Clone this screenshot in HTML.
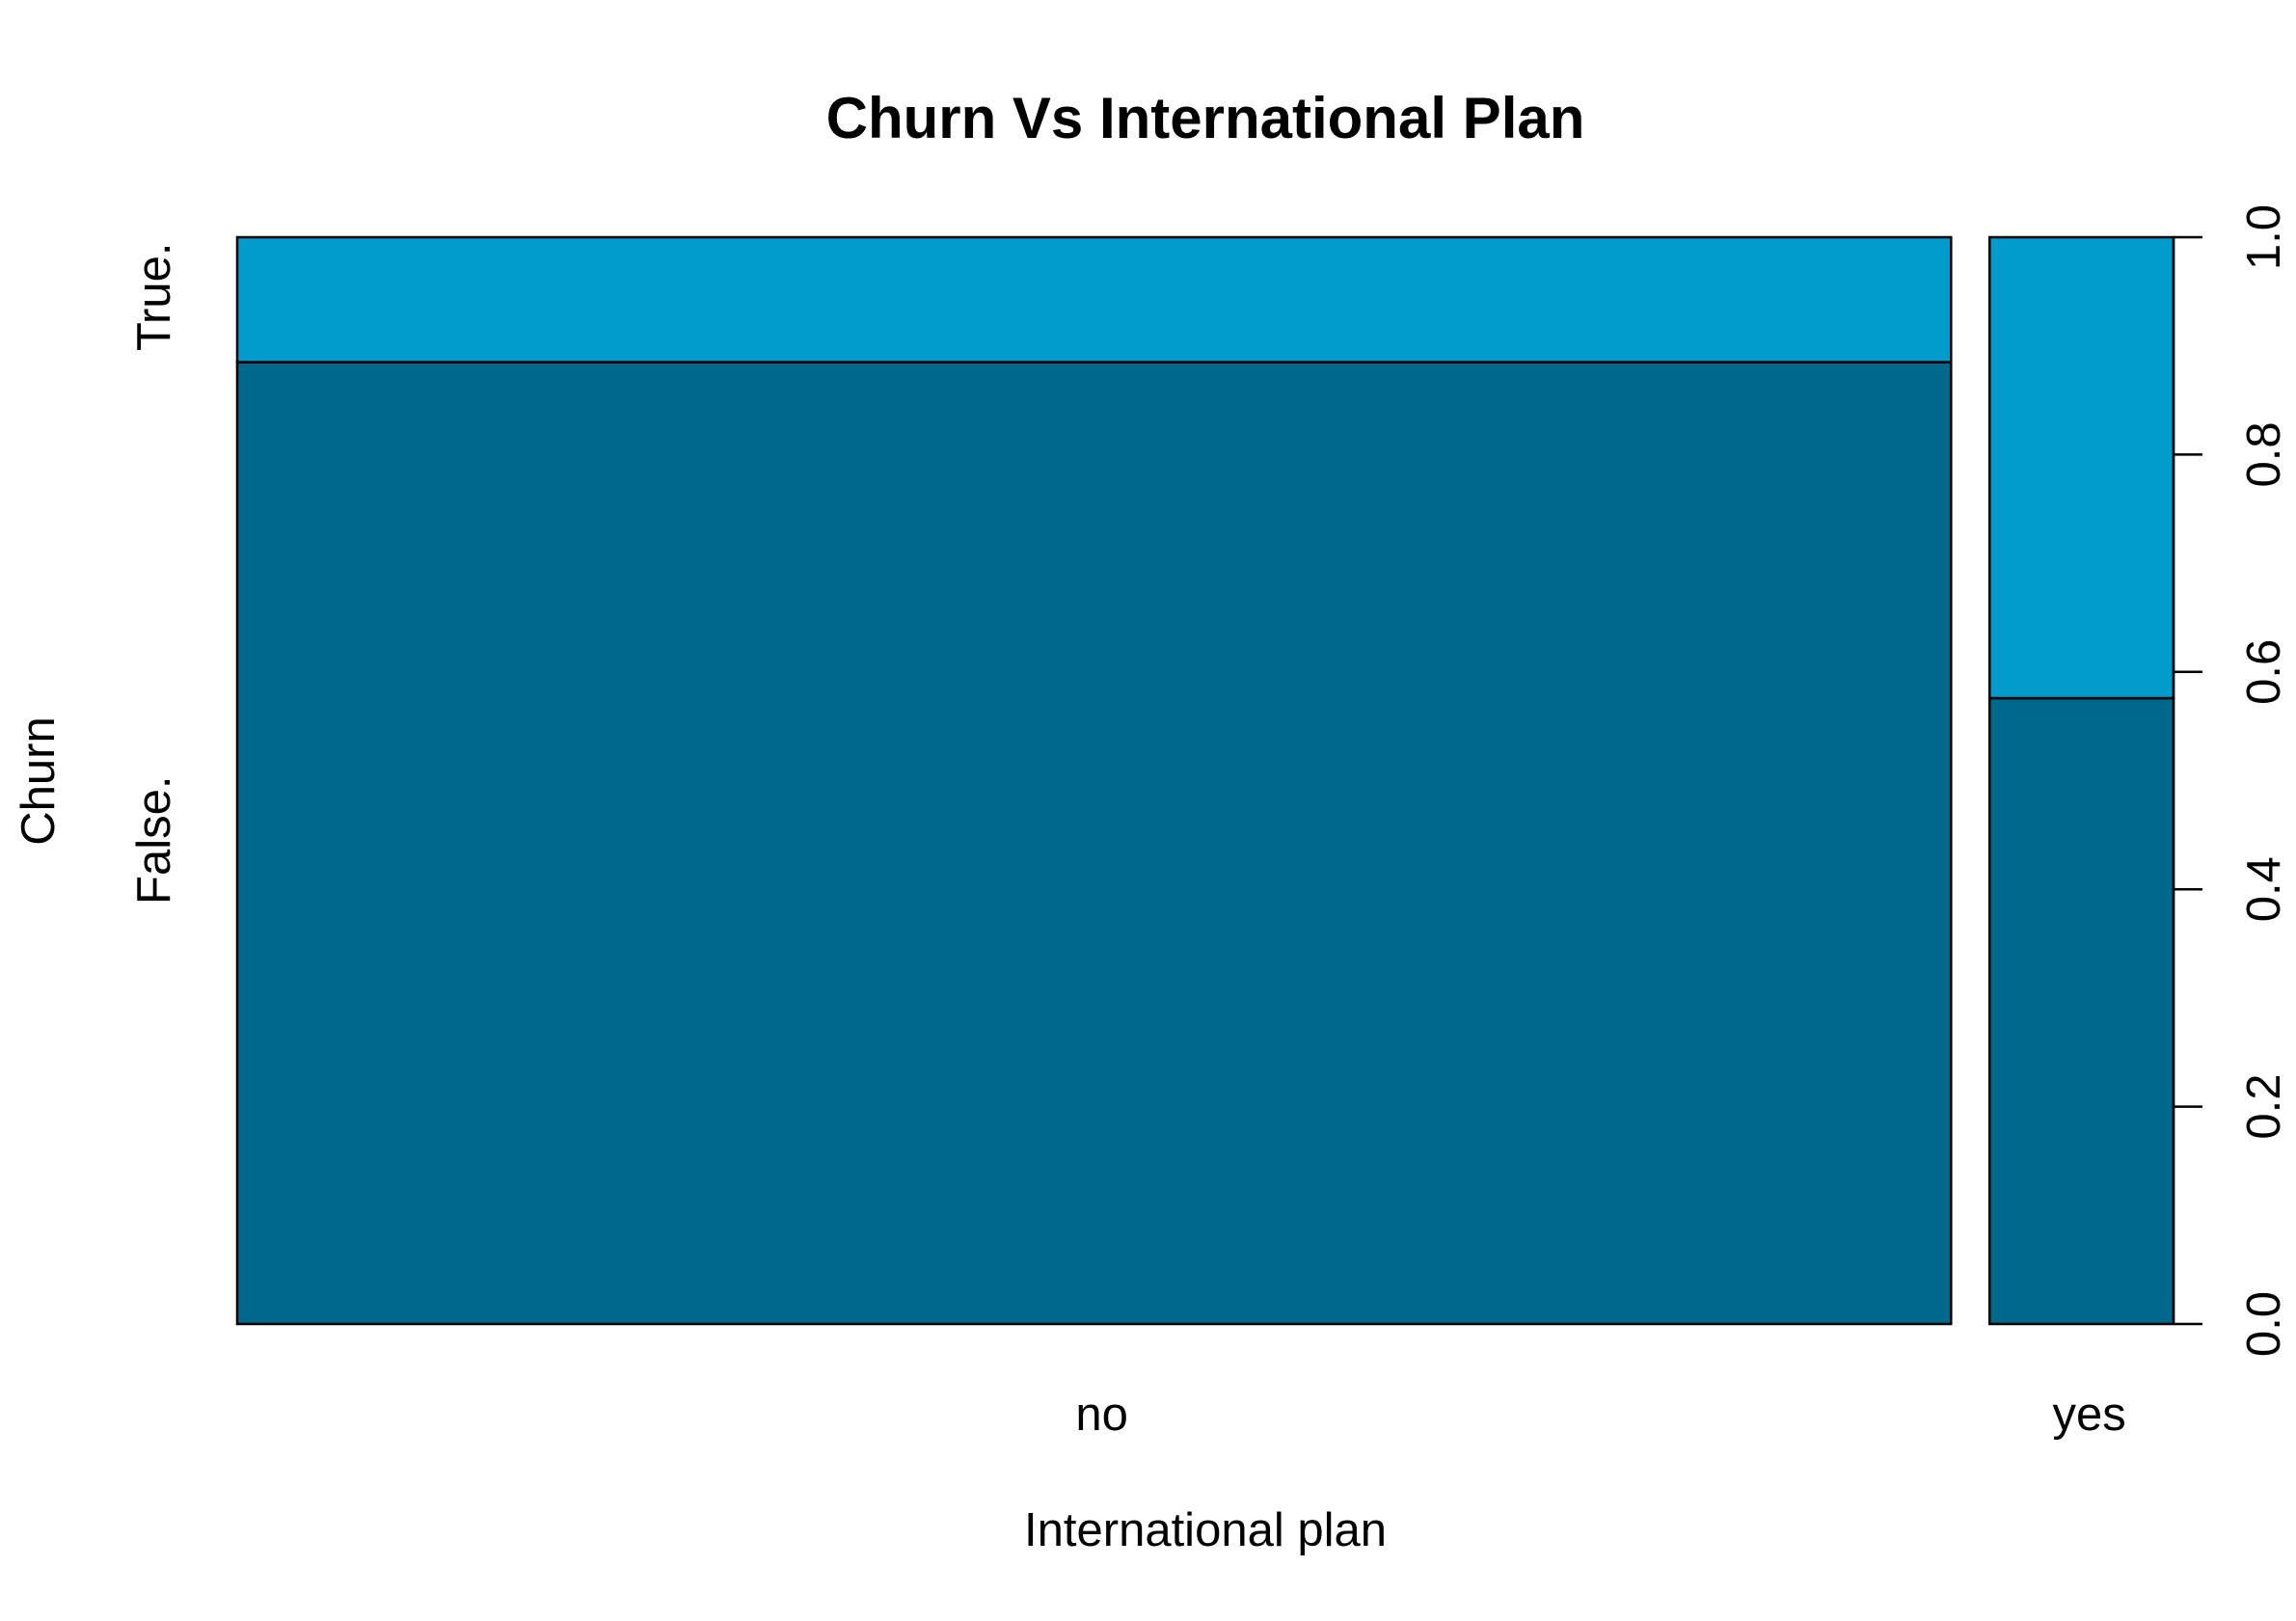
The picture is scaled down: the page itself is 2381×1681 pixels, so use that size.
<!DOCTYPE html>
<html>
<head>
<meta charset="utf-8">
<style>
html,body{margin:0;padding:0;background:#fff;}
svg{display:block;}
text{font-family:"Liberation Sans",Arial,sans-serif;fill:#000;}
</style>
</head>
<body>
<svg id="chart" width="2381" height="1681" viewBox="0 0 2381 1681" xmlns="http://www.w3.org/2000/svg">
  <rect x="0" y="0" width="2381" height="1681" fill="#ffffff"/>
  <text x="1250" y="143" font-size="60" font-weight="bold" text-anchor="middle">Churn Vs International Plan</text>
  <text x="1250" y="1603" font-size="49" text-anchor="middle">International plan</text>
  <text transform="rotate(-90 56 810)" x="56" y="810" font-size="49" text-anchor="middle">Churn</text>
  <g id="cells"></g>
  <g id="yaxis"></g>
  <g id="labels"></g>
</svg>
<script>
const categories = ["no", "yes"];
const churnLevels = ["False.", "True."];
const falseCounts = [2664, 186];
const trueCounts = [346, 137];
const tickLabels = ["0.0", "0.2", "0.4", "0.6", "0.8", "1.0"];
const tickValues = [0, 0.2, 0.4, 0.6, 0.8, 1.0];

const NS = "http://www.w3.org/2000/svg";
const plotLeft = 246, plotRight = 2254, plotTop = 246, plotBottom = 1373, colGap = 40;
const fills = ["#00688B", "#009ACD"];
function yScale(v){ return plotBottom - v * (plotBottom - plotTop); }
const totals = categories.map((c,i)=>falseCounts[i]+trueCounts[i]);
const grand = totals.reduce((a,b)=>a+b,0);
const usable = (plotRight - plotLeft) - colGap * (categories.length - 1);
function mk(tag, attrs, parent){
  const e = document.createElementNS(NS, tag);
  for (const k in attrs) e.setAttribute(k, attrs[k]);
  parent.appendChild(e);
  return e;
}
const cellsG = document.getElementById("cells");
const labelsG = document.getElementById("labels");
const yaxisG = document.getElementById("yaxis");
let cx = plotLeft;
categories.forEach((cat, i) => {
  const w = usable * totals[i] / grand;
  const pf = falseCounts[i] / totals[i];
  const yDiv = yScale(pf);
  const r1 = mk("rect", {x: cx, y: yDiv, width: w, height: plotBottom - yDiv, fill: fills[0], stroke: "#000", "stroke-width": 2.5}, cellsG);
  
  
  const r2 = mk("rect", {x: cx, y: plotTop, width: w, height: yDiv - plotTop, fill: fills[1], stroke: "#000", "stroke-width": 2.5}, cellsG);
  
  
  const t = mk("text", {x: cx + w / 2 + 8, y: 1483, "font-size": 49, "text-anchor": "middle"}, labelsG);
  
  
  t.textContent = cat;
  if (i === 0) {
    const mids = [(yDiv + plotBottom) / 2, (plotTop + yDiv) / 2];
    churnLevels.forEach((lvl, j) => {
      const lt = mk("text", {x: 176, y: mids[j] - 3, "font-size": 49, "text-anchor": "middle", transform: "rotate(-90 176 " + (mids[j] - 3) + ")"}, labelsG);
      
      
      lt.textContent = lvl;
    });
  }
  cx += w + colGap;
});
const axisLine = mk("line", {x1: plotRight, x2: plotRight, y1: yScale(0), y2: yScale(1), stroke: "#000", "stroke-width": 2.5}, yaxisG);


tickValues.forEach((v, i) => {
  const y = yScale(v);
  const tk = mk("line", {x1: plotRight, x2: plotRight + 30, y1: y, y2: y, stroke: "#000", "stroke-width": 2.5}, yaxisG);
  
  
  const tl = mk("text", {x: 2364, y: y, "font-size": 49, "text-anchor": "middle", transform: "rotate(-90 2364 " + y + ")"}, yaxisG);
  
  
  tl.textContent = tickLabels[i];
});
</script>
</body>
</html>
